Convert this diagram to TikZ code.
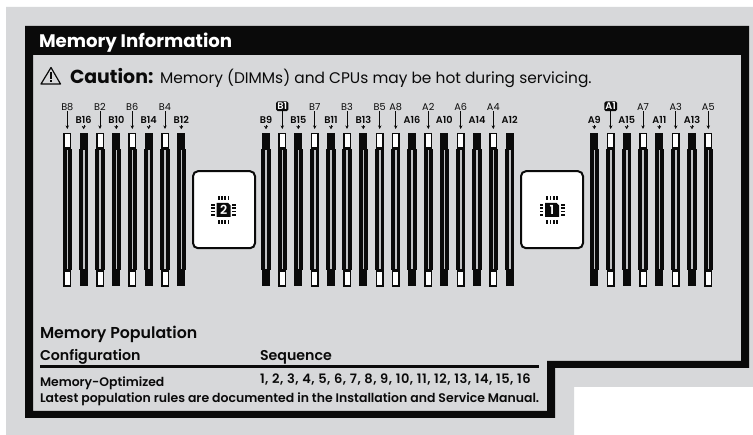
\documentclass[tikz,border=0pt]{standalone}
\usepackage{fontspec}
\setmainfont{Poppins}[BoldFont={Poppins SemiBold}]
\newfontfamily\heavyfont{Poppins}[UprightFont={* Bold}]
\usetikzlibrary{arrows.meta}
\definecolor{panel}{HTML}{D7D8DA}
\definecolor{ink}{HTML}{0A0A0A}
\definecolor{groove}{HTML}{C0C1C3}
\tikzset{
  txt/.style={inner sep=0pt,outer sep=0pt,anchor=base west,text=ink},
  slotlabel/.style={inner sep=0pt,outer sep=1pt,text=ink,font=\fontsize{9.7}{10}\selectfont\bfseries,text height=7pt,text depth=0pt},
  toplabel/.style={slotlabel,font=\fontsize{9.7}{10}\selectfont},
  keylabel/.style={slotlabel,fill=ink,text=white,rounded corners=1.5pt,inner xsep=1.2pt,inner ysep=1.3pt,outer sep=0pt},
  capwhite/.style={draw=ink,line width=1.6pt,fill=white,minimum width=6.6pt,minimum height=14.6pt,inner sep=0pt,outer sep=0.8pt},
  capblack/.style={fill=ink,minimum width=8.2pt,minimum height=16pt,inner sep=0pt,outer sep=0pt},
  slotbody/.style={fill=ink,minimum width=9.4pt,minimum height=121pt,inner sep=0pt,outer sep=0pt},
  slotgroove/.style={fill=groove,minimum width=1.6pt,minimum height=119pt,inner sep=0pt,outer sep=0pt},
  longarrow/.style={draw=ink,line width=0.7pt,-{Stealth[length=3.6pt,width=3.4pt]},shorten >=3.6pt},
  shortarrow/.style={draw=ink,line width=0.1pt,-{Stealth[length=3.2pt,width=3.8pt]},shorten >=3.6pt,shorten <=1pt},
  cpubox/.style={draw=ink,line width=2pt,fill=white,rounded corners=5pt,minimum width=62pt,minimum height=77pt,inner sep=0pt},
  chipnum/.style={inner sep=0pt,text=white,font=\fontsize{12.5}{12.5}\selectfont\bfseries},
}
\newcommand{\chipicon}[3]{% name, x, digit
  \fill[ink] (#2-7,203) -- (#2+4.5,203) -- (#2+7,205.5) -- (#2+7,217) -- (#2-7,217) -- cycle;
  \node[chipnum] (#1) at (#2,210) {#3};
  \foreach \d in {-4.8,-1.6,1.6,4.8}{
    \fill[ink] (#2+\d-0.9,196) rectangle (#2+\d+0.9,200.3);
    \fill[ink] (#2+\d-0.9,219.7) rectangle (#2+\d+0.9,224);
    \fill[ink] (#2-12.5,210+\d-0.9) rectangle (#2-8.6,210+\d+0.9);
    \fill[ink] (#2+8.6,210+\d-0.9) rectangle (#2+12.5,210+\d+0.9);
  }
}
\begin{document}
\begin{tikzpicture}[x=1pt,y=-1pt]
\useasboundingbox (0,0) rectangle (753,435);
\fill[white] (0,0) rectangle (753,435);
\fill[panel] (6,7) -- (753,7) -- (753,387) -- (574,387) -- (574,435) -- (6,435) -- cycle;
\fill[ink,even odd rule]
  (25,26) -- (749,26) -- (749,368) -- (555,368) -- (555,418) -- (25,418) -- cycle
  (33,55) -- (741,55) -- (741,361) -- (547,361) -- (547,411) -- (33,411) -- cycle;
\node[txt,text=white,font=\fontsize{18.15}{20}\heavyfont] (title) at (39,47.5) {Memory Information};
% caution triangle
\draw[ink,line width=1.2pt,line join=round] (51,67.5) -- (60.5,84) -- (41,84) -- cycle;
\fill[ink] (50.2,72.5) rectangle (51.8,79);
\fill[ink] (50.2,80) rectangle (51.8,82);
\node[txt,font=\fontsize{18.9}{24}\heavyfont] (caution) at (70,84) {Caution:};
\node[txt,font=\fontsize{15.4}{18}\selectfont] (cautiontext) at (160,84) {Memory (DIMMs) and CPUs may be hot during servicing.};
% DIMM slots: x / label / cap kind / label kind / label y
\foreach \x/\n/\c/\l/\ly in {
  67.3/B8/capwhite/toplabel/106.7, 83.7/B16/capblack/slotlabel/120,
  100/B2/capwhite/toplabel/106.7, 116.3/B10/capblack/slotlabel/120,
  132.3/B6/capwhite/toplabel/106.7, 148.7/B14/capblack/slotlabel/120,
  165/B4/capwhite/toplabel/106.7, 181.3/B12/capblack/slotlabel/120,
  266/B9/capblack/slotlabel/120, 282.3/B1/capwhite/keylabel/106.3,
  298.3/B15/capblack/slotlabel/120, 314.7/B7/capwhite/toplabel/106.7,
  331/B11/capblack/slotlabel/120, 347/B3/capwhite/toplabel/106.7,
  363.3/B13/capblack/slotlabel/120, 379.7/B5/capwhite/toplabel/106.7,
  395.7/A8/capwhite/toplabel/106.7, 412/A16/capblack/slotlabel/120,
  428.3/A2/capwhite/toplabel/106.7, 444.3/A10/capblack/slotlabel/120,
  460.7/A6/capwhite/toplabel/106.7, 477/A14/capblack/slotlabel/120,
  493.3/A4/capwhite/toplabel/106.7, 509.7/A12/capblack/slotlabel/120,
  594.3/A9/capblack/slotlabel/120, 610.7/A1/capwhite/keylabel/106.3,
  626.7/A15/capblack/slotlabel/120, 643/A7/capwhite/toplabel/106.7,
  659.3/A11/capblack/slotlabel/120, 675.7/A3/capwhite/toplabel/106.7,
  692/A13/capblack/slotlabel/120, 708.3/A5/capwhite/toplabel/106.7}{
  \node[\c] (top\n) at (\x,140.7) {};
  \node[\c] (bot\n) at (\x,278.5) {};
  \node[slotbody] (body\n) at (\x,209.5) {};
  \node[slotgroove] (groove\n) at (\x,209.5) {};
  \node[\l] (lab\n) at (\x,\ly) {\n};
}
\foreach \n in {B8,B2,B6,B4,B1,B7,B3,B5,A8,A2,A6,A4,A1,A7,A3,A5}{
  \draw[longarrow] (lab\n.south) -- (top\n.north);
}
\foreach \n in {B16,B10,B14,B12,B9,B15,B11,B13,A9,A15,A11,A13}{
  \draw[shortarrow] (lab\n.south) -- (top\n.north);
}
% CPUs
\node[cpubox] (cpu2) at (224,209.7) {};
\node[cpubox] (cpu1) at (552,209.7) {};
\chipicon{chip2}{223.7}{2}
\chipicon{chip1}{552}{1}
% table
\node[txt,font=\fontsize{15.8}{18}\selectfont\bfseries] (pop) at (40,339) {Memory Population};
\node[txt,font=\fontsize{14.2}{16}\selectfont\bfseries] (conf) at (40,361) {Configuration};
\node[txt,font=\fontsize{14.2}{16}\selectfont\bfseries] (seq) at (260,361) {Sequence};
\fill[ink] (40,365.5) rectangle (538.5,368);
\node[txt,font=\fontsize{12.4}{14}\selectfont\bfseries] (opt) at (40,387) {Memory-Optimized};
\node[txt,font=\fontsize{13}{14}\selectfont\bfseries\addfontfeature{LetterSpace=4}] (nums) at (260,384) {1, 2, 3, 4, 5, 6, 7, 8, 9, 10, 11, 12, 13, 14, 15, 16};
\node[txt,font=\fontsize{12.47}{14}\selectfont\bfseries] (latest) at (40,403) {Latest population rules are documented in the Installation and Service Manual.};
\end{tikzpicture}
\end{document}
